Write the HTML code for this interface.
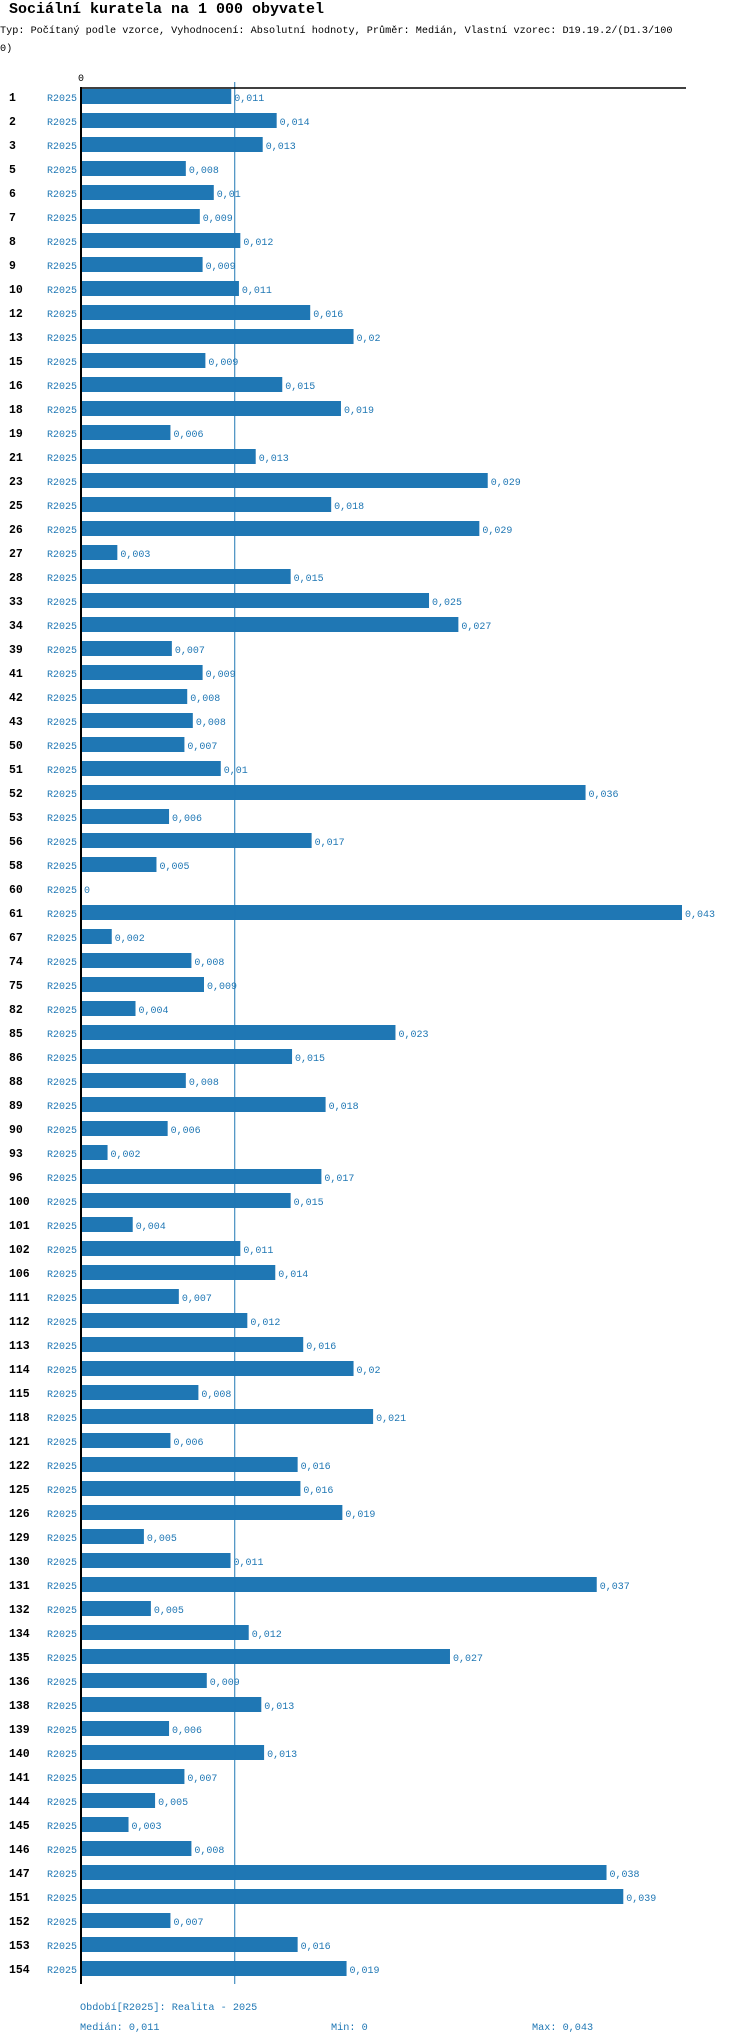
<!DOCTYPE html>
<html><head><meta charset="utf-8">
<style>
html,body{margin:0;padding:0;background:#fff;width:750px;height:2044px;overflow:hidden}
svg{display:block}
text{font-family:"Liberation Mono","DejaVu Sans Mono",monospace}
</style></head>
<body>
<svg id="chart" width="750" height="2044" xmlns="http://www.w3.org/2000/svg">
<text x="9" y="13" font-size="15" font-weight="bold" fill="#000">Sociální kuratela na 1 000 obyvatel</text>
<text x="0" y="33" font-size="10.2" fill="#000">Typ: Počítaný podle vzorce, Vyhodnocení: Absolutní hodnoty, Průměr: Medián, Vlastní vzorec: D19.19.2/(D1.3/100</text>
<text x="0" y="51" font-size="10.2" fill="#000">0)</text>
<g id="plot"></g>
<text x="80" y="2010" font-size="10.2" fill="#1f77b4">Období[R2025]: Realita - 2025</text>
<text x="80" y="2030" font-size="10.2" fill="#1f77b4">Medián: 0,011</text>
<text x="331" y="2030" font-size="10.2" fill="#1f77b4">Min: 0</text>
<text x="532" y="2030" font-size="10.2" fill="#1f77b4">Max: 0,043</text>
</svg>
<script>
const categories = ["1","2","3","5","6","7","8","9","10","12","13","15","16","18","19","21","23","25","26","27","28","33","34","39","41","42","43","50","51","52","53","56","58","60","61","67","74","75","82","85","86","88","89","90","93","96","100","101","102","106","111","112","113","114","115","118","121","122","125","126","129","130","131","132","134","135","136","138","139","140","141","144","145","146","147","151","152","153","154"];
const values = [0.01075,0.0140,0.0130,0.0075,0.0095,0.0085,0.0114,0.0087,0.0113,0.0164,0.0195,0.0089,0.0144,0.0186,0.0064,0.0125,0.0291,0.0179,0.0285,0.0026,0.0150,0.0249,0.0270,0.0065,0.0087,0.0076,0.0080,0.0074,0.0100,0.0361,0.0063,0.0165,0.0054,0,0.043,0.0022,0.0079,0.0088,0.0039,0.0225,0.0151,0.0075,0.0175,0.0062,0.0019,0.0172,0.0150,0.0037,0.0114,0.0139,0.0070,0.0119,0.0159,0.0195,0.0084,0.0209,0.0064,0.0155,0.0157,0.0187,0.0045,0.0107,0.0369,0.0050,0.0120,0.0264,0.0090,0.0129,0.0063,0.0131,0.0074,0.0053,0.0034,0.0079,0.0376,0.0388,0.0064,0.0155,0.0190];
const valueLabels = ["0,011","0,014","0,013","0,008","0,01","0,009","0,012","0,009","0,011","0,016","0,02","0,009","0,015","0,019","0,006","0,013","0,029","0,018","0,029","0,003","0,015","0,025","0,027","0,007","0,009","0,008","0,008","0,007","0,01","0,036","0,006","0,017","0,005","0","0,043","0,002","0,008","0,009","0,004","0,023","0,015","0,008","0,018","0,006","0,002","0,017","0,015","0,004","0,011","0,014","0,007","0,012","0,016","0,02","0,008","0,021","0,006","0,016","0,016","0,019","0,005","0,011","0,037","0,005","0,012","0,027","0,009","0,013","0,006","0,013","0,007","0,005","0,003","0,008","0,038","0,039","0,007","0,016","0,019"];
const seriesName = "R2025";
const medianValue = 0.011;
const maxValue = 0.043;

const NS = "http://www.w3.org/2000/svg";
const g = document.getElementById('plot');
const x0 = 81, xMaxPx = 682, axisTop = 88, rowStart = 97, rowStep = 24, barH = 15;
const xScale = v => x0 + v / maxValue * (xMaxPx - x0);
const yScale = i => rowStart + i * rowStep;
const axisBottom = yScale(categories.length - 1) + 15;
function mk(tag, attrs){const e=document.createElementNS(NS,tag);for(const k in attrs)e.setAttribute(k,attrs[k]);g.appendChild(e);return e;}

categories.forEach((c,i)=>{
  const y = yScale(i);
  const bar = mk('rect',{x:x0,y:y-8,width:Math.max(0,xScale(values[i])-x0),height:barH,fill:'#1f77b4'});
  
  
  const cl = mk('text',{x:9,y:y+4,'font-size':11.5,'font-weight':'bold',fill:'#000'});
  cl.textContent = c;
  
  
  const sl = mk('text',{x:77,y:y+4,'font-size':10,fill:'#1f77b4','text-anchor':'end'});
  sl.textContent = seriesName;
  
  
  const vl = mk('text',{x:xScale(values[i])+3,y:y+4,'font-size':10,fill:'#1f77b4'});
  vl.textContent = valueLabels[i];
  
  
});

const med = mk('line',{x1:xScale(medianValue),x2:xScale(medianValue),y1:axisTop-6,y2:axisBottom,stroke:'#1f77b4','stroke-width':1});


const xa = mk('line',{x1:x0-1,x2:686,y1:axisTop,y2:axisTop,stroke:'#000','stroke-width':1.5});


const ya = mk('line',{x1:x0,x2:x0,y1:axisTop-1,y2:axisBottom,stroke:'#000','stroke-width':2});


const zt = mk('text',{x:x0,y:81,'font-size':10,fill:'#000','text-anchor':'middle'});
zt.textContent = '0';


</script>
</body></html>
